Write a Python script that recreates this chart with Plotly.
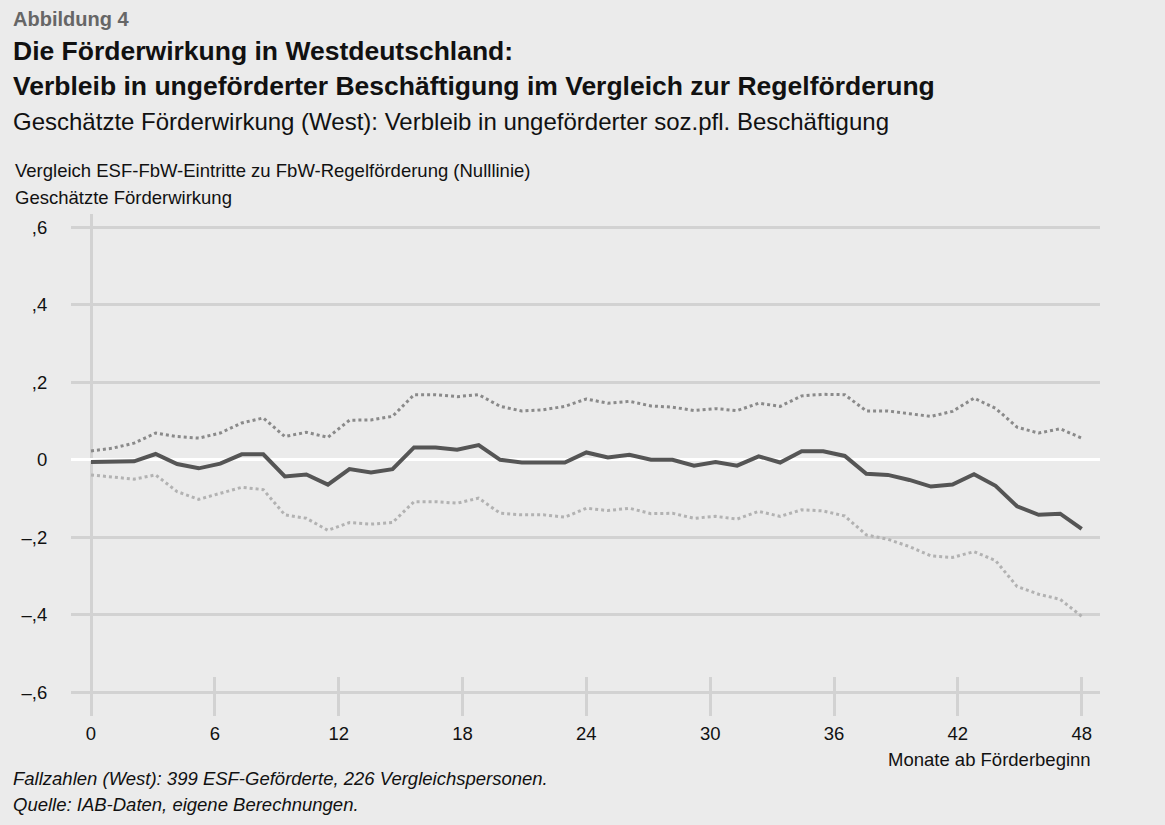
import plotly.graph_objects as go

# ---------------- data ----------------
n_points = 47
# the 47 estimates are spread evenly over months 0..48
monate = [i * 48 / (n_points - 1) for i in range(n_points)]

wirkung = [-0.006, -0.006, -0.004, 0.015, -0.011, -0.022, -0.010, 0.014, 0.014, -0.043,
           -0.038, -0.064, -0.024, -0.033, -0.024, 0.032, 0.032, 0.026, 0.038, 0.000,
           -0.007, -0.007, -0.007, 0.019, 0.006, 0.013, 0.000, 0.000, -0.015, -0.006,
           -0.015, 0.009, -0.007, 0.022, 0.022, 0.010, -0.036, -0.039, -0.052, -0.069,
           -0.064, -0.037, -0.067, -0.120, -0.142, -0.139, -0.178]

obere_grenze = [0.023, 0.030, 0.043, 0.069, 0.060, 0.056, 0.069, 0.095, 0.108, 0.060,
                0.071, 0.058, 0.102, 0.103, 0.112, 0.168, 0.168, 0.163, 0.168, 0.138,
                0.126, 0.129, 0.138, 0.157, 0.146, 0.151, 0.139, 0.136, 0.127, 0.132,
                0.127, 0.146, 0.138, 0.165, 0.169, 0.168, 0.126, 0.126, 0.119, 0.112,
                0.125, 0.159, 0.133, 0.084, 0.069, 0.080, 0.056]

untere_grenze = [-0.039, -0.045, -0.050, -0.039, -0.082, -0.102, -0.086, -0.071, -0.077, -0.142,
                 -0.151, -0.182, -0.162, -0.166, -0.162, -0.108, -0.108, -0.112, -0.099, -0.138,
                 -0.142, -0.142, -0.148, -0.125, -0.131, -0.125, -0.139, -0.138, -0.151, -0.146,
                 -0.153, -0.133, -0.146, -0.129, -0.132, -0.145, -0.194, -0.205, -0.224, -0.248,
                 -0.252, -0.237, -0.260, -0.327, -0.347, -0.360, -0.404]

x_ticks = [0, 6, 12, 18, 24, 30, 36, 42, 48]
y_ticks = [-0.6, -0.4, -0.2, 0, 0.2, 0.4, 0.6]
y_tick_labels = ["\u2013,6", "\u2013,4", "\u2013,2", "0", ",2", ",4", ",6"]

# ---------------- layout geometry ----------------
W, H = 1165, 825
L, R, T, B = 71, 1100, 214, 716   # plot area in pixels
FONT = "Liberation Sans, Arial, Helvetica, sans-serif"
BG = "#ebebeb"
GRID = "#d2d2d2"
SMALL = 18.5


def fx(px):
    return (px - L) / (R - L)


def fy(py):
    return (B - py) / (B - T)


fig = go.Figure()
fig.add_trace(go.Scatter(x=monate, y=obere_grenze, mode="lines",
                         line=dict(color="#8a8a8a", width=3, dash="dot"),
                         hoverinfo="skip", showlegend=False))
fig.add_trace(go.Scatter(x=monate, y=untere_grenze, mode="lines",
                         line=dict(color="#b2b2b2", width=3, dash="dot"),
                         hoverinfo="skip", showlegend=False))
fig.add_trace(go.Scatter(x=monate, y=wirkung, mode="lines",
                         line=dict(color="#555555", width=4),
                         showlegend=False))

px_per_month = 20.64
fig.update_xaxes(
    range=[-(91 - L) / px_per_month, 48 + (R - 1081.7) / px_per_month],
    tickvals=x_ticks, ticktext=[str(v) for v in x_ticks],
    showgrid=False, zeroline=True, zerolinecolor=GRID, zerolinewidth=3,
    ticks="inside", ticklen=39, tickwidth=3, tickcolor=GRID,
    ticklabelstandoff=4,
    showline=False, tickfont=dict(family=FONT, size=SMALL, color="#111111"),
    fixedrange=True,
)
fig.update_yaxes(
    range=[-0.6 - (B - 692.3) / 387.5, 0.6 + (227.3 - T) / 387.5],
    tickvals=y_ticks, ticktext=y_tick_labels,
    showgrid=True, gridcolor=GRID, gridwidth=3,
    zeroline=True, zerolinecolor="#ffffff", zerolinewidth=3,
    ticks="outside", ticklen=19, tickcolor="rgba(0,0,0,0)",
    showline=False, tickfont=dict(family=FONT, size=SMALL, color="#111111"),
    fixedrange=True,
)

annotations = [
    dict(text="<b>Abbildung 4</b>", x=fx(11), y=fy(19), size=20, color="#666666"),
    dict(text="<b>Die Förderwirkung in Westdeutschland:</b>", x=fx(11), y=fy(51), size=26.5, color="#111111"),
    dict(text="<b>Verbleib in ungeförderter Beschäftigung im Vergleich zur Regelförderung</b>",
         x=fx(11), y=fy(86), size=26.5, color="#111111"),
    dict(text="Geschätzte Förderwirkung (West): Verbleib in ungeförderter soz.pfl. Beschäftigung",
         x=fx(11), y=fy(122), size=24, color="#111111"),
    dict(text="Vergleich ESF-FbW-Eintritte zu FbW-Regelförderung (Nulllinie)",
         x=fx(13), y=fy(170), size=SMALL, color="#111111"),
    dict(text="Geschätzte Förderwirkung", x=fx(13), y=fy(197), size=SMALL, color="#111111"),
    dict(text="<i>Fallzahlen (West): 399 ESF-Geförderte, 226 Vergleichspersonen.</i>",
         x=fx(11), y=fy(778), size=SMALL, color="#111111"),
    dict(text="<i>Quelle: IAB-Daten, eigene Berechnungen.</i>",
         x=fx(11), y=fy(804), size=SMALL, color="#111111"),
]
for a in annotations:
    fig.add_annotation(text=a["text"], x=a["x"], y=a["y"], xref="paper", yref="paper",
                       xanchor="left", yanchor="middle", showarrow=False,
                       font=dict(family=FONT, size=a["size"], color=a["color"]))

fig.add_annotation(text="Monate ab Förderbeginn", x=fx(1093), y=fy(759),
                   xref="paper", yref="paper", xanchor="right", yanchor="middle",
                   showarrow=False, font=dict(family=FONT, size=SMALL, color="#111111"))

fig.update_layout(
    width=W, height=H,
    margin=dict(l=L, r=W - R, t=T, b=H - B, pad=0),
    paper_bgcolor=BG, plot_bgcolor=BG,
    font=dict(family=FONT),
    hovermode=False,
)

fig.write_html("out.html", config={"displayModeBar": False},
               post_script="document.body.style.margin='0';")
